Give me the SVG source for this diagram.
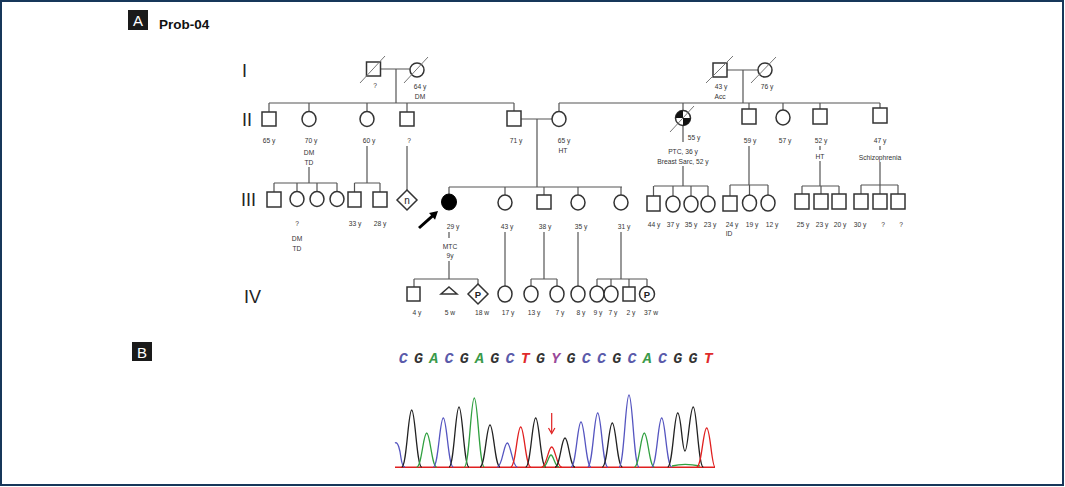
<svg xmlns="http://www.w3.org/2000/svg" width="1065" height="487" viewBox="0 0 1065 487">
<style>
.ln{stroke:#555;stroke-width:1.2;fill:none}
.sym{stroke:#333;stroke-width:1.5;fill:#fff}
.sl{stroke:#777;stroke-width:1;fill:none}
.t{font-family:'Liberation Sans',Arial,sans-serif;font-size:6.7px;fill:#333;text-anchor:middle}
.gen{font-family:'Liberation Sans',Arial,sans-serif;font-size:18px;fill:#222}
.sq{font-family:'Liberation Mono','Courier New',monospace;font-size:15px;font-weight:bold;font-style:italic;text-anchor:middle}
.pk{fill:none;stroke-width:1.3}
</style>
<rect x="1" y="1" width="1062" height="484" fill="#fff" stroke="#17375a" stroke-width="2"/>
<g id="panelA-label">
<rect x="128" y="10" width="20" height="20" fill="#1a1a1a"/>
<text x="138" y="26" font-family="'Liberation Sans',Arial,sans-serif" font-size="15" fill="#fff" text-anchor="middle">A</text>
<text x="159" y="29" font-family="'Liberation Sans',Arial,sans-serif" font-size="13.5" font-weight="bold" fill="#111">Prob-04</text>
</g>
<g id="gen-labels">
<text class="gen" x="242" y="77">I</text>
<text class="gen" x="242" y="126">II</text>
<text class="gen" x="241" y="206">III</text>
<text class="gen" x="244" y="303">IV</text>
</g>
<g id="connectors">
<path class="ln" d="M380.5 69H410M396 69V103M269 103H514M269 103V112M309 103V112M367 103V112M407 103V112M514 103V111"/>
<path class="ln" d="M727 70H758M743 70V103M559 103H880M559 103V112M683 103V110.5M749 103V109M783 103V110M820 103V109M880 103V108"/>
<path class="ln" d="M521 119H552M537 119V187"/>
<path class="ln" d="M309 167V183M274 183H337M274 183V192M297 183V191.5M317 183V191.5M337 183V191.5"/>
<path class="ln" d="M367 146V183M354.5 183H380M354.5 183V192M380 183V192"/>
<path class="ln" d="M407 146V190"/>
<path class="ln" d="M449 187H622M449 187V194M505 187V195M544 187V195M578 187V195M621 187V195"/>
<path class="ln" d="M683 125.5V142M683 166V186M654 186H708M653.5 186V196M673 186V196M691 186V196M708 186V196"/>
<path class="ln" d="M749 146V185M730 185H768M730 185V196M749.5 185V195M768 185V195"/>
<path class="ln" d="M820 146V150M820 161V186M802 186H839M802 186V194M821 186V194M839 186V194"/>
<path class="ln" d="M880 146V150M880 162V185M861 185H898M861 185V194M880 185V194M898 185V194"/>
<path class="ln" d="M449 232V238M449 261V279M414 279H478M414 279V287M478 279V284"/>
<path class="ln" d="M505 232V286"/>
<path class="ln" d="M544 232V279M531 279H557M531 279V286M557 279V286"/>
<path class="ln" d="M578 232V286"/>
<path class="ln" d="M621 232V279M597 279H647M597 279V286M611 279V286M629 279V287M647 279V286.5"/>
</g>
<g id="I-1"><rect class="sym" x="366.5" y="62" width="14" height="14"/><line class="sl" x1="360" y1="83" x2="385" y2="56"/><text class="t" x="375" y="87.5">?</text></g>
<g id="I-2"><circle class="sym" cx="417" cy="70" r="7"/><line class="sl" x1="404" y1="83" x2="428" y2="57"/><text class="t" x="420" y="89">64 y</text><text class="t" x="420" y="99">DM</text></g>
<g id="I-3"><rect class="sym" x="713" y="63" width="14" height="14"/><line class="sl" x1="706" y1="83" x2="733" y2="56"/><text class="t" x="721" y="88.5">43 y</text><text class="t" x="720" y="99">Acc</text></g>
<g id="I-4"><circle class="sym" cx="765" cy="70" r="7"/><line class="sl" x1="751" y1="83" x2="776" y2="57"/><text class="t" x="767" y="88.5">76 y</text></g>
<g id="II-1"><rect class="sym" x="262" y="112" width="14" height="14"/><text class="t" x="269" y="143">65 y</text></g>
<g id="II-2"><ellipse class="sym" cx="309" cy="119" rx="7" ry="7.5"/><text class="t" x="311" y="143">70 y</text><text class="t" x="309" y="154.5">DM</text><text class="t" x="309" y="164.5">TD</text></g>
<g id="II-3"><ellipse class="sym" cx="367" cy="119" rx="7" ry="7.5"/><text class="t" x="369" y="143">60 y</text></g>
<g id="II-4"><rect class="sym" x="400" y="112" width="14" height="14"/><text class="t" x="409" y="143">?</text></g>
<g id="II-5"><rect class="sym" x="507" y="111" width="14" height="15"/><text class="t" x="516" y="143">71 y</text></g>
<g id="II-6"><ellipse class="sym" cx="559" cy="119" rx="7" ry="7.5"/><text class="t" x="564" y="143">65 y</text><text class="t" x="563" y="152.5">HT</text></g>
<g id="II-7">
<circle class="sym" cx="683" cy="118" r="7.5"/>
<path d="M683 118H675.5A7.5 7.5 0 0 1 683 110.5Z" fill="#111"/>
<path d="M683 118H690.5A7.5 7.5 0 0 1 683 125.5Z" fill="#111"/>
<line class="sl" x1="670" y1="132" x2="694" y2="106"/>
<text class="t" x="694" y="139.5">55 y</text><text class="t" x="683" y="154">PTC, 36 y</text><text class="t" x="683" y="163.5">Breast  Sarc, 52 y</text>
</g>
<g id="II-8"><rect class="sym" x="742" y="109" width="14" height="15"/><text class="t" x="750" y="143">59 y</text></g>
<g id="II-9"><ellipse class="sym" cx="783" cy="117.5" rx="7" ry="7.5"/><text class="t" x="785" y="143">57 y</text></g>
<g id="II-10"><rect class="sym" x="813" y="109" width="14" height="15"/><text class="t" x="821" y="143">52 y</text><text class="t" x="820" y="159">HT</text></g>
<g id="II-11"><rect class="sym" x="873" y="108" width="14" height="15"/><text class="t" x="880" y="143">47 y</text><text class="t" x="880" y="159.5">Schizophrenia</text></g>
<g id="III-1"><rect class="sym" x="267" y="192" width="14" height="15"/></g>
<g id="III-2"><ellipse class="sym" cx="297" cy="199" rx="7" ry="7.5"/><text class="t" x="297" y="226">?</text><text class="t" x="297" y="240.5">DM</text><text class="t" x="297" y="250.5">TD</text></g>
<g id="III-3"><ellipse class="sym" cx="317" cy="199" rx="7" ry="7.5"/></g>
<g id="III-4"><ellipse class="sym" cx="337" cy="199" rx="7" ry="7.5"/></g>
<g id="III-5"><rect class="sym" x="348" y="192" width="13" height="15"/><text class="t" x="355" y="226">33 y</text></g>
<g id="III-6"><rect class="sym" x="373" y="192" width="14" height="15"/><text class="t" x="380" y="226">28 y</text></g>
<g id="III-7"><path class="sym" d="M407 190L417 200L407 210L397 200Z"/><text x="407" y="203.5" font-family="'Liberation Sans',Arial,sans-serif" font-size="10" fill="#222" text-anchor="middle">n</text></g>
<g id="III-8">
<ellipse cx="449" cy="202" rx="7.5" ry="8" fill="#000" stroke="#000" stroke-width="1"/>
<polygon points="438,211 435.04,219.69 433.04,217.46 420,229.1 418,226.9 431.04,215.22 429.04,212.99" fill="#000"/>
<text class="t" x="453" y="228.5">29 y</text><text class="t" x="450" y="248.5">MTC</text><text class="t" x="450" y="257.5">9y</text>
</g>
<g id="III-9"><ellipse class="sym" cx="505" cy="202.5" rx="7" ry="7.5"/><text class="t" x="507" y="228.5">43 y</text></g>
<g id="III-10"><rect class="sym" x="537" y="195" width="14" height="14"/><text class="t" x="545" y="228.5">38 y</text></g>
<g id="III-11"><ellipse class="sym" cx="578" cy="202.5" rx="7" ry="7.5"/><text class="t" x="581" y="228.5">35 y</text></g>
<g id="III-12"><ellipse class="sym" cx="621" cy="202.5" rx="7" ry="7.5"/><text class="t" x="624" y="228.5">31 y</text></g>
<g id="III-13"><rect class="sym" x="647" y="196" width="13" height="15"/><text class="t" x="654" y="227">44 y</text></g>
<g id="III-14"><ellipse class="sym" cx="673" cy="204" rx="7" ry="8"/><text class="t" x="673" y="227">37 y</text></g>
<g id="III-15"><ellipse class="sym" cx="691" cy="204" rx="7" ry="8"/><text class="t" x="691" y="227">35 y</text></g>
<g id="III-16"><ellipse class="sym" cx="708" cy="204" rx="7" ry="8"/><text class="t" x="710" y="227">23 y</text></g>
<g id="III-17"><rect class="sym" x="723" y="196" width="14" height="15"/><text class="t" x="732" y="227">24 y</text><text class="t" x="729" y="236">ID</text></g>
<g id="III-18"><ellipse class="sym" cx="749.5" cy="203" rx="7" ry="8"/><text class="t" x="752" y="227">19 y</text></g>
<g id="III-19"><ellipse class="sym" cx="768" cy="203" rx="7" ry="8"/><text class="t" x="772" y="227">12 y</text></g>
<g id="III-20"><rect class="sym" x="795" y="194" width="14" height="15"/><text class="t" x="803" y="227">25 y</text></g>
<g id="III-21"><rect class="sym" x="814" y="194" width="14" height="15"/><text class="t" x="822" y="227">23 y</text></g>
<g id="III-22"><rect class="sym" x="832" y="194" width="14" height="15"/><text class="t" x="840" y="227">20 y</text></g>
<g id="III-23"><rect class="sym" x="854" y="194" width="14" height="15"/><text class="t" x="860" y="227">30 y</text></g>
<g id="III-24"><rect class="sym" x="873" y="194" width="14" height="15"/><text class="t" x="883" y="227">?</text></g>
<g id="III-25"><rect class="sym" x="891" y="194" width="14" height="15"/><text class="t" x="901" y="227">?</text></g>
<g id="IV-1"><rect class="sym" x="407" y="287" width="13" height="14"/><text class="t" x="417" y="315">4 y</text></g>
<g id="IV-2"><path class="sym" d="M449 287L457 294H441Z"/><text class="t" x="450" y="315">5 w</text></g>
<g id="IV-3"><path class="sym" d="M478 284L488 294L478 304L468 294Z"/><text x="478" y="297.5" font-family="'Liberation Sans',Arial,sans-serif" font-size="9.5" font-weight="bold" fill="#222" text-anchor="middle">P</text><text class="t" x="482" y="315">18 w</text></g>
<g id="IV-4"><ellipse class="sym" cx="505" cy="294" rx="7" ry="8"/><text class="t" x="508" y="315">17 y</text></g>
<g id="IV-5"><ellipse class="sym" cx="531" cy="294" rx="7" ry="8"/><text class="t" x="534" y="315">13 y</text></g>
<g id="IV-6"><ellipse class="sym" cx="557" cy="294" rx="7" ry="8"/><text class="t" x="560" y="315">7 y</text></g>
<g id="IV-7"><ellipse class="sym" cx="578" cy="294" rx="7" ry="8"/><text class="t" x="581" y="315">8 y</text></g>
<g id="IV-8"><ellipse class="sym" cx="597" cy="294" rx="7" ry="8"/><text class="t" x="598" y="315">9 y</text></g>
<g id="IV-9"><ellipse class="sym" cx="611" cy="294" rx="7" ry="8"/><text class="t" x="613" y="315">7 y</text></g>
<g id="IV-10"><rect class="sym" x="623" y="287" width="12" height="14"/><text class="t" x="631" y="315">2 y</text></g>
<g id="IV-11"><ellipse class="sym" cx="647" cy="294" rx="7.5" ry="7.5"/><text x="647" y="297.5" font-family="'Liberation Sans',Arial,sans-serif" font-size="9.5" font-weight="bold" fill="#222" text-anchor="middle">P</text><text class="t" x="651" y="315">37 w</text></g>
<g id="panelB-label">
<rect x="132" y="342" width="20" height="19" fill="#1a1a1a"/>
<text x="142" y="357.5" font-family="'Liberation Sans',Arial,sans-serif" font-size="15" fill="#fff" text-anchor="middle">B</text>
</g>
<g id="sequence">
<text class="sq" x="403.3" y="363" fill="#5a5aaa">C</text>
<text class="sq" x="418.6" y="363" fill="#333">G</text>
<text class="sq" x="433.8" y="363" fill="#3a9a4a">A</text>
<text class="sq" x="449.1" y="363" fill="#5a5aaa">C</text>
<text class="sq" x="464.3" y="363" fill="#333">G</text>
<text class="sq" x="479.6" y="363" fill="#3a9a4a">A</text>
<text class="sq" x="494.8" y="363" fill="#333">G</text>
<text class="sq" x="510.1" y="363" fill="#5a5aaa">C</text>
<text class="sq" x="525.3" y="363" fill="#e02a2a">T</text>
<text class="sq" x="540.6" y="363" fill="#333">G</text>
<text class="sq" x="555.8" y="363" fill="#9a4a9a">Y</text>
<text class="sq" x="571.1" y="363" fill="#333">G</text>
<text class="sq" x="586.3" y="363" fill="#5a5aaa">C</text>
<text class="sq" x="601.6" y="363" fill="#5a5aaa">C</text>
<text class="sq" x="616.8" y="363" fill="#333">G</text>
<text class="sq" x="632.1" y="363" fill="#5a5aaa">C</text>
<text class="sq" x="647.3" y="363" fill="#3a9a4a">A</text>
<text class="sq" x="662.6" y="363" fill="#5a5aaa">C</text>
<text class="sq" x="677.8" y="363" fill="#333">G</text>
<text class="sq" x="693.1" y="363" fill="#333">G</text>
<text class="sq" x="708.3" y="363" fill="#e02a2a">T</text>
</g>
<g id="chromatogram">
<line x1="395" y1="467.3" x2="715" y2="467.3" stroke="#e02020" stroke-width="1.5"/>
<path class="pk" stroke="#5555c0" d="M395 443C398 441 400 450 401 458C402 465 403 467 405 467"/>
<path class="pk" stroke="#222" d="M401.7 467C406.7 467 408.2 410 411.7 410C415.2 410 416.7 467 421.7 467"/>
<path class="pk" stroke="#30a040" d="M416.7 467C421.7 467 423.2 433 426.7 433C430.2 433 431.7 467 436.7 467"/>
<path class="pk" stroke="#5555c0" d="M433.3 467C438.3 467 439.8 418 443.3 418C446.8 418 448.3 467 453.3 467"/>
<path class="pk" stroke="#222" d="M449 467C454 467 455.5 407 459 407C462.5 407 464 467 469 467"/>
<path class="pk" stroke="#30a040" d="M464.3 467C469.3 467 470.8 398 474.3 398C477.8 398 479.3 467 484.3 467"/>
<path class="pk" stroke="#222" d="M480 467C485 467 486.5 425 490 425C493.5 425 495 467 500 467"/>
<path class="pk" stroke="#5555c0" d="M497.3 467C502.3 467 503.8 443 507.3 443C510.8 443 512.3 467 517.3 467"/>
<path class="pk" stroke="#e02020" d="M510.7 467C515.7 467 517.2 427 520.7 427C524.2 427 525.7 467 530.7 467"/>
<path class="pk" stroke="#222" d="M525.7 467C530.7 467 532.2 418 535.7 418C539.2 418 540.7 467 545.7 467"/>
<path class="pk" stroke="#30a040" d="M543 467C547 467 548.5 455 551 455C553.5 455 555 467 559 467"/>
<path class="pk" stroke="#e02020" d="M541.7 467C546.7 467 548.2 447 551.7 447C555.2 447 556.7 467 561.7 467"/>
<path class="pk" stroke="#222" d="M555 467C560 467 561.5 438 565 438C568.5 438 570 467 575 467"/>
<path class="pk" stroke="#5555c0" d="M571 467C576 467 577.5 422 581 422C584.5 422 586 467 591 467"/>
<path class="pk" stroke="#5555c0" d="M587.7 467C592.7 467 594.2 413 597.7 413C601.2 413 602.7 467 607.7 467"/>
<path class="pk" stroke="#222" d="M602.3 467C607.3 467 608.8 423 612.3 423C615.8 423 617.3 467 622.3 467"/>
<path class="pk" stroke="#5555c0" d="M619 467C624 467 625.5 395 629 395C632.5 395 634 467 639 467"/>
<path class="pk" stroke="#30a040" d="M634.3 467C639.3 467 640.8 433 644.3 433C647.8 433 649.3 467 654.3 467"/>
<path class="pk" stroke="#5555c0" d="M651.7 467C656.7 467 658.2 418 661.7 418C665.2 418 666.7 467 671.7 467"/>
<path class="pk" stroke="#222" d="M667.7 467C672.7 467 674.2 413 677.7 413C681.2 413 682 451 685 451C688 451 689.8 407 693.3 407C696.8 407 698.3 467 703.3 467"/>
<path class="pk" stroke="#30a040" d="M672 466C680 464 690 464 700 466"/>
<path class="pk" stroke="#e02020" d="M696.7 467C701.7 467 703.2 428 706.7 428C710.2 428 711.7 467 715 467"/>
<path d="M551.7 413V432" stroke="#e02020" stroke-width="1.2" fill="none"/>
<path d="M548.5 428L551.7 433.5L554.9 428" stroke="#e02020" stroke-width="1.2" fill="none"/>
</g>
</svg>
